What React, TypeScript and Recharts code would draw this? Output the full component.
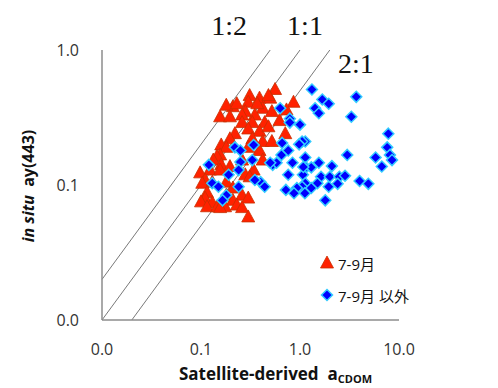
import { Label, ReferenceLine, Scatter, ScatterChart, XAxis, YAxis } from "recharts";

// 7-9月 (summer) samples
const summerAcdom = [
  0.56, 0.39, 0.5, 0.31, 0.3, 0.21, 0.18, 0.86, 0.73, 0.42, 0.52, 0.28, 0.35, 0.156, 0.196, 0.26, 0.62,
  0.26, 0.33, 0.44, 0.71, 0.3, 0.39, 0.48, 0.22, 0.33, 0.42, 0.52, 0.196, 0.16, 0.18, 0.3, 0.156, 0.39,
  0.145, 0.133, 0.26, 0.42, 0.16, 0.196, 0.34, 0.123, 0.098, 0.156, 0.28, 0.31, 0.11, 0.13, 0.18, 0.103,
  0.21, 0.115, 0.26, 0.18, 0.11, 0.21, 0.3, 0.1, 0.13, 0.115, 0.146, 0.175, 0.23, 0.156, 0.26, 0.3, 0.37,
  0.23, 0.48
];
const summerAy = [
  0.51, 0.44, 0.44, 0.46, 0.41, 0.38, 0.39, 0.41, 0.36, 0.37, 0.35, 0.35, 0.33, 0.32, 0.32, 0.33, 0.3,
  0.29, 0.29, 0.29, 0.24, 0.26, 0.25, 0.27, 0.24, 0.22, 0.21, 0.21, 0.22, 0.198, 0.19, 0.19, 0.167, 0.18,
  0.163, 0.153, 0.153, 0.153, 0.141, 0.137, 0.129, 0.129, 0.123, 0.129, 0.119, 0.115, 0.109, 0.105, 0.105,
  0.103, 0.095, 0.088, 0.084, 0.084, 0.08, 0.077, 0.08, 0.075, 0.074, 0.069, 0.069, 0.069, 0.071, 0.068,
  0.068, 0.058, 0.4, 0.4, 0.46
];

// 7-9月以外 samples
const otherAcdom = [
  1.32, 1.68, 1.95, 1.42, 1.55, 3.7, 3.3, 7.8, 7.6, 8.1, 8.5, 6.7, 5.8, 3.0, 1.13, 1.05, 1.13, 1.55, 2.1,
  1.15, 1.3, 1.07, 1.63, 2.0, 2.5, 2.85, 1.13, 1.5, 1.95, 2.4, 4.0, 4.9, 1.05, 1.3, 1.12, 1.8, 0.34, 0.66,
  0.98, 0.65, 0.33, 0.53, 0.58, 0.84, 1.08, 0.76, 0.4, 0.35, 0.72, 0.93, 0.87, 0.22, 0.25, 0.12, 0.25,
  0.24, 0.19, 0.13, 0.15, 0.24, 0.18, 0.165, 0.63, 0.79, 0.79, 0.44, 0.5, 0.76, 1.0
];
const otherAy = [
  0.51, 0.43, 0.4, 0.37, 0.34, 0.45, 0.32, 0.24, 0.19, 0.167, 0.153, 0.137, 0.16, 0.167, 0.21, 0.21, 0.16,
  0.146, 0.138, 0.135, 0.135, 0.119, 0.115, 0.115, 0.115, 0.117, 0.103, 0.103, 0.097, 0.102, 0.107, 0.102,
  0.097, 0.095, 0.087, 0.077, 0.198, 0.205, 0.2, 0.167, 0.153, 0.141, 0.146, 0.146, 0.136, 0.119, 0.105,
  0.109, 0.092, 0.095, 0.087, 0.19, 0.18, 0.141, 0.148, 0.129, 0.119, 0.103, 0.097, 0.097, 0.084, 0.077,
  0.37, 0.31, 0.29, 0.097, 0.146, 0.18, 0.28
];

const seriesNames = ["7-9月", "7-9月 以外"];
const xTicks = [0.01, 0.1, 1, 10];
const yTicks = [0.01, 0.1, 1];

const summerData = summerAcdom.map((x, i) => ({ x, y: summerAy[i] }));
const otherData = otherAcdom.map((x, i) => ({ x, y: otherAy[i] }));

const tickStyle = { fontFamily: "'Open Sans', sans-serif", fontSize: 16, fill: "#333" };
const ratioFont = "'Liberation Serif', 'DejaVu Serif', serif";

function Triangle({ cx, cy }: { cx?: number; cy?: number }) {
  if (cx == null || cy == null) return null;
  return (
    <polygon
      points={`${cx},${cy - 7} ${cx - 6.5},${cy + 5} ${cx + 6.5},${cy + 5}`}
      fill="#ff2200"
      stroke="#c83000"
      strokeWidth={0.8}
    />
  );
}

function Diamond({ cx, cy }: { cx?: number; cy?: number }) {
  if (cx == null || cy == null) return null;
  return (
    <polygon
      points={`${cx},${cy - 5.5} ${cx + 5.5},${cy} ${cx},${cy + 5.5} ${cx - 5.5},${cy}`}
      fill="#0000ff"
      stroke="#33ccff"
      strokeWidth={1.5}
    />
  );
}

function ratioLabel(text: string, dx: number, dy: number) {
  return (props: any) => {
    const vb = props.viewBox;
    if (!vb) return null;
    return (
      <text
        x={vb.x + vb.width + dx}
        y={vb.y + dy}
        textAnchor="middle"
        dominantBaseline="central"
        fontFamily={ratioFont}
        fontSize={28}
        fill="#111"
      >
        {text}
      </text>
    );
  };
}

function LegendBox() {
  const icons = [<Triangle cx={8} cy={9} />, <Diamond cx={8} cy={9} />];
  return (
    <div
      style={{
        position: "absolute",
        left: 311,
        top: 239,
        fontFamily: "'Open Sans', 'Noto Sans CJK JP', sans-serif",
        fontSize: 15,
        color: "#111"
      }}
    >
      {seriesNames.map((name, i) => (
        <div key={name} style={{ display: "flex", alignItems: "center", height: 32 }}>
          <svg width={16} height={18} style={{ marginRight: 3 }}>
            {icons[i]}
          </svg>
          <span>{name}</span>
        </div>
      ))}
    </div>
  );
}

export default function App() {
  return (
    <div style={{ position: "relative", width: 490, height: 380 }}>
      <ScatterChart width={490} height={380} margin={{ top: 42, right: 99, bottom: 8, left: 0 }}>
        <XAxis
          type="number"
          dataKey="x"
          scale="log"
          domain={[0.01, 10]}
          ticks={xTicks}
          allowDataOverflow
          tickFormatter={(v: number) => v.toFixed(1)}
          tickLine={false}
          tickSize={6}
          tickMargin={18}
          height={60}
          axisLine={{ stroke: "#8c8c8c", strokeWidth: 1.5 }}
          tick={tickStyle}
        >
          <Label
            content={(props: any) => {
              const vb = props.viewBox;
              return (
                <text
                  x={vb.x + vb.width / 2 + 25}
                  y={vb.y + 60}
                  textAnchor="middle"
                  fontFamily="'Open Sans', sans-serif"
                  fontWeight="bold"
                  fontSize={17}
                  fill="#111"
                >
                  Satellite-derived{"\u00a0\u00a0"}a
                  <tspan fontSize={11} dy={3}>
                    CDOM
                  </tspan>
                </text>
              );
            }}
          />
        </XAxis>
        <YAxis
          type="number"
          dataKey="y"
          scale="log"
          domain={[0.01, 1]}
          ticks={yTicks}
          allowDataOverflow
          tickFormatter={(v: number) => v.toFixed(1)}
          tickLine={false}
          tickSize={6}
          tickMargin={17}
          width={94}
          axisLine={{ stroke: "#8c8c8c", strokeWidth: 1.5 }}
          tick={tickStyle}
        >
          <Label
            content={(props: any) => {
              const vb = props.viewBox;
              const cx = 20;
              const cy = vb.y + vb.height / 2 + 1;
              return (
                <text
                  x={cx}
                  y={cy}
                  transform={`rotate(-90, ${cx}, ${cy})`}
                  textAnchor="middle"
                  dominantBaseline="central"
                  fontFamily="'Open Sans', sans-serif"
                  fontWeight="bold"
                  fontSize={16}
                  fill="#111"
                >
                  <tspan fontStyle="italic">in situ</tspan>
                  {"\u00a0\u00a0"}ay(443)
                </text>
              );
            }}
          />
        </YAxis>
        <ReferenceLine
          segment={[{ x: 0.01, y: 0.02 }, { x: 0.5, y: 1 }]}
          stroke="#555"
          strokeWidth={0.8}
          label={ratioLabel("1:2", -41, -25)}
        />
        <ReferenceLine
          segment={[{ x: 0.01, y: 0.01 }, { x: 1, y: 1 }]}
          stroke="#555"
          strokeWidth={0.8}
          label={ratioLabel("1:1", 5, -25)}
        />
        <ReferenceLine
          segment={[{ x: 0.02, y: 0.01 }, { x: 2, y: 1 }]}
          stroke="#555"
          strokeWidth={0.8}
          label={ratioLabel("2:1", 26, 13)}
        />
        <Scatter name={seriesNames[0]} data={summerData} shape={<Triangle />} isAnimationActive={false} />
        <Scatter name={seriesNames[1]} data={otherData} shape={<Diamond />} isAnimationActive={false} />
      </ScatterChart>
      <LegendBox />
    </div>
  );
}
